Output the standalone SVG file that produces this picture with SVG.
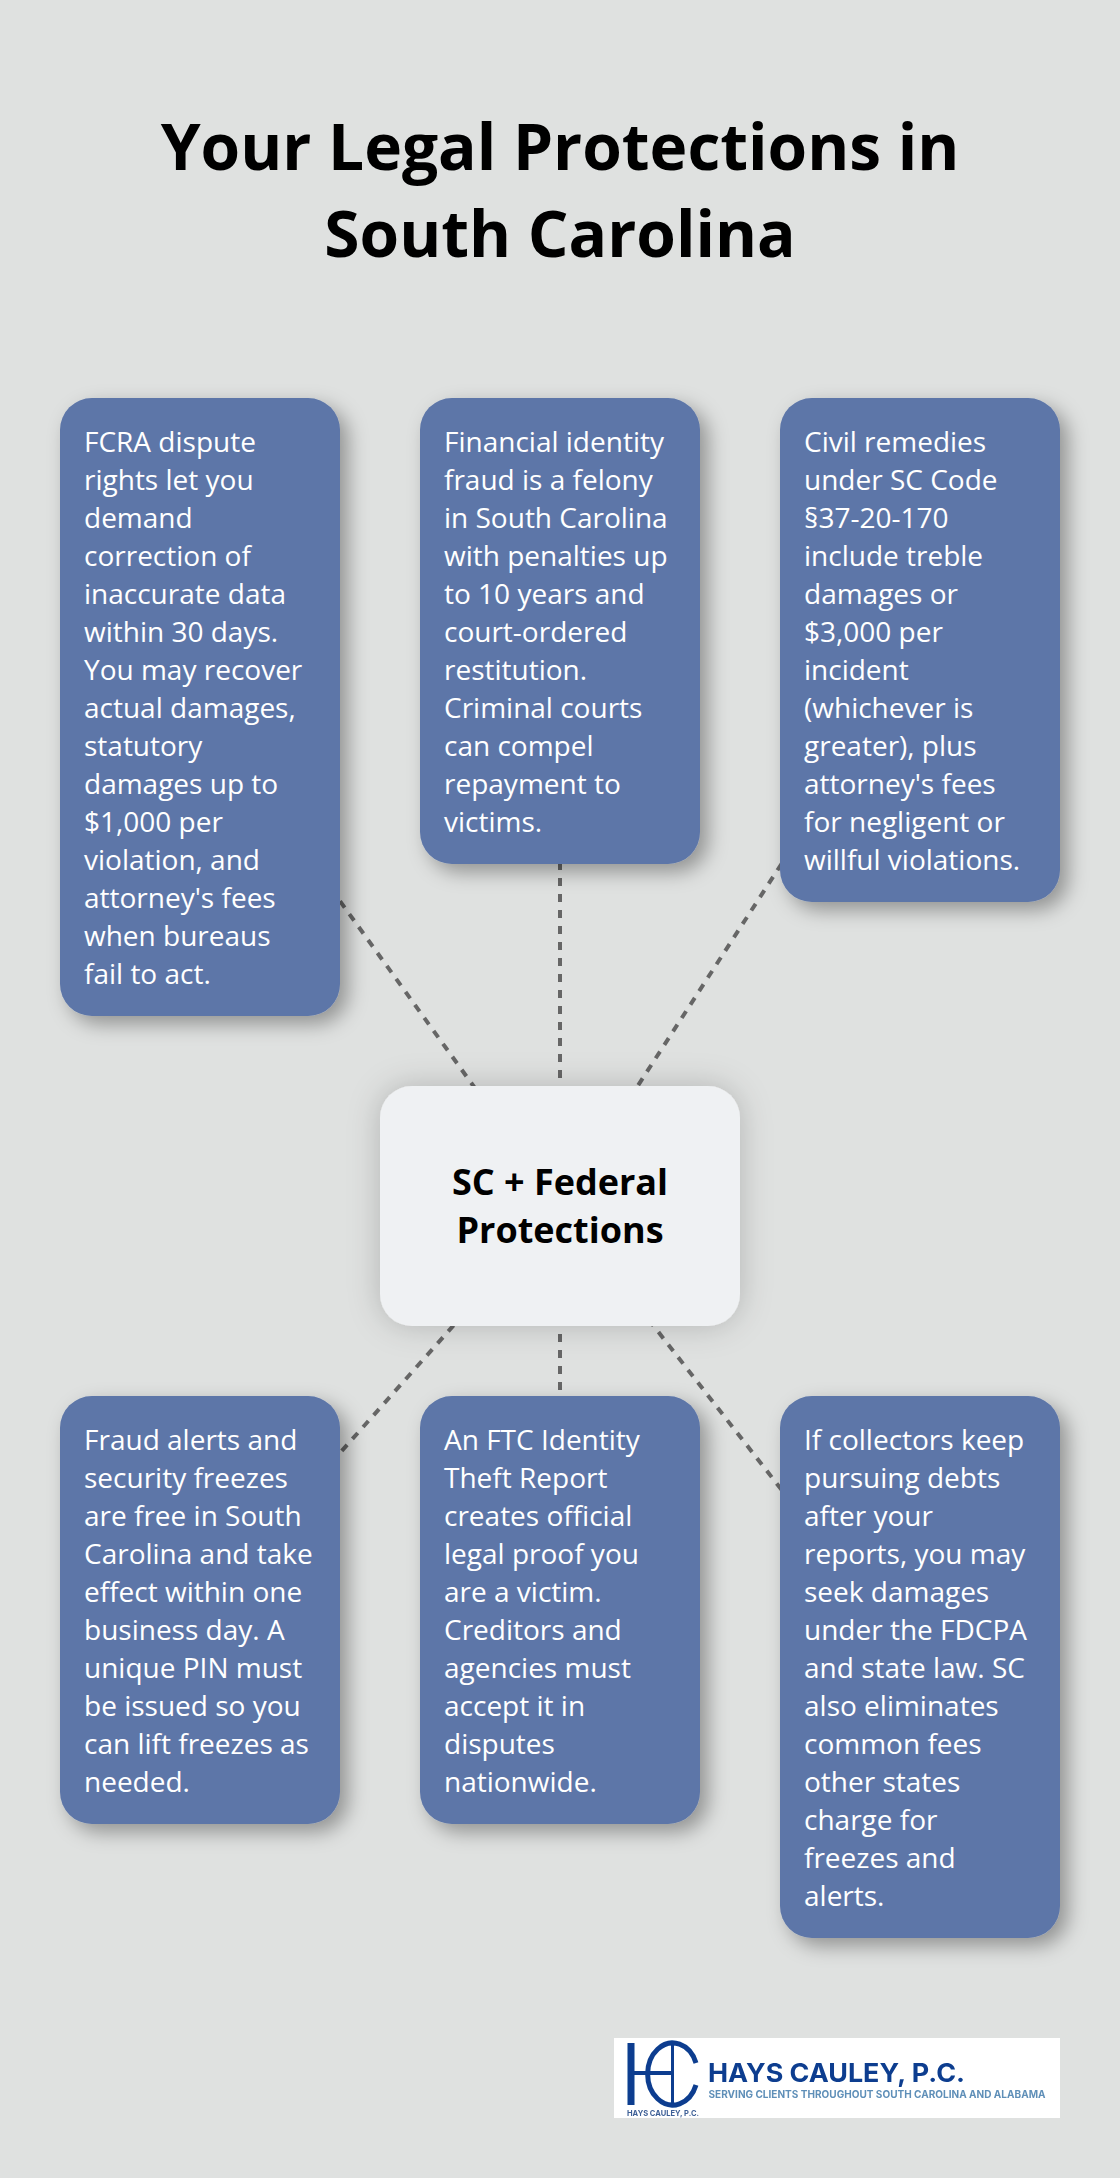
<svg xmlns="http://www.w3.org/2000/svg" width="1120" height="2178" viewBox="0 0 1120 2178">
<style>
text{font-family:"Open Sans","Noto Sans",sans-serif}
.bg{fill:#dfe1e0}
.card{fill:#5d76a8;filter:url(#cs)}
.cardt{fill:#fff;font-size:28px}
.hub{fill:#eff1f3;filter:url(#hs)}
.hubt{fill:#000;font-size:36px;font-weight:700;text-anchor:middle}
.title{fill:#000;font-size:64px;font-weight:700;text-anchor:middle}
.link{stroke:#666;stroke-width:4;stroke-dasharray:8 8;fill:none}
.lg{font-family:Inter,"Liberation Sans",sans-serif;font-weight:700}
</style>
<defs>
<filter id="cs" x="-20%" y="-20%" width="140%" height="140%"><feDropShadow dx="8" dy="8" stdDeviation="10" flood-color="#000" flood-opacity="0.35"/></filter>
<filter id="hs" x="-25%" y="-30%" width="150%" height="160%"><feDropShadow dx="0" dy="0" stdDeviation="16" flood-color="#000" flood-opacity="0.2"/></filter>
<filter id="lb"><feGaussianBlur stdDeviation="0.5"/></filter>
</defs>
<rect class="bg" width="1120" height="2178"/>
<text class="title" id="title"><tspan x="560" y="169.500">Your Legal Protections in</tspan><tspan x="560" y="256.500">South Carolina</tspan></text>
<g id="connectors">
<path class="link" d="M560 1206L200 707"/>
<path class="link" d="M560 1206L560 631"/>
<path class="link" d="M560 1206L920 650"/>
<path class="link" d="M560 1206L200 1610"/>
<path class="link" d="M560 1206L560 1610"/>
<path class="link" d="M560 1206L920 1667"/>
</g>
<g id="node-fcra"><rect class="card" x="60" y="398" width="280" height="618" rx="32"/>
<text class="cardt"><tspan x="84" y="452">FCRA dispute</tspan><tspan x="84" dy="38">rights let you</tspan><tspan x="84" dy="38">demand</tspan><tspan x="84" dy="38">correction of</tspan><tspan x="84" dy="38">inaccurate data</tspan><tspan x="84" dy="38">within 30 days.</tspan><tspan x="84" dy="38">You may recover</tspan><tspan x="84" dy="38">actual damages,</tspan><tspan x="84" dy="38">statutory</tspan><tspan x="84" dy="38">damages up to</tspan><tspan x="84" dy="38">$1,000 per</tspan><tspan x="84" dy="38">violation, and</tspan><tspan x="84" dy="38">attorney's fees</tspan><tspan x="84" dy="38">when bureaus</tspan><tspan x="84" dy="38">fail to act.</tspan></text></g>
<g id="node-felony"><rect class="card" x="420" y="398" width="280" height="466" rx="32"/>
<text class="cardt"><tspan x="444" y="452">Financial identity</tspan><tspan x="444" dy="38">fraud is a felony</tspan><tspan x="444" dy="38">in South Carolina</tspan><tspan x="444" dy="38">with penalties up</tspan><tspan x="444" dy="38">to 10 years and</tspan><tspan x="444" dy="38">court-ordered</tspan><tspan x="444" dy="38">restitution.</tspan><tspan x="444" dy="38">Criminal courts</tspan><tspan x="444" dy="38">can compel</tspan><tspan x="444" dy="38">repayment to</tspan><tspan x="444" dy="38">victims.</tspan></text></g>
<g id="node-civil"><rect class="card" x="780" y="398" width="280" height="504" rx="32"/>
<text class="cardt"><tspan x="804" y="452">Civil remedies</tspan><tspan x="804" dy="38">under SC Code</tspan><tspan x="804" dy="38">§37-20-170</tspan><tspan x="804" dy="38">include treble</tspan><tspan x="804" dy="38">damages or</tspan><tspan x="804" dy="38">$3,000 per</tspan><tspan x="804" dy="38">incident</tspan><tspan x="804" dy="38">(whichever is</tspan><tspan x="804" dy="38">greater), plus</tspan><tspan x="804" dy="38">attorney's fees</tspan><tspan x="804" dy="38">for negligent or</tspan><tspan x="804" dy="38">willful violations.</tspan></text></g>
<g id="node-hub"><rect class="hub" x="380" y="1086" width="360" height="240" rx="32"/>
<text class="hubt"><tspan x="560" y="1195">SC + Federal</tspan><tspan x="560" y="1243">Protections</tspan></text></g>
<g id="node-alerts"><rect class="card" x="60" y="1396" width="280" height="428" rx="32"/>
<text class="cardt"><tspan x="84" y="1450">Fraud alerts and</tspan><tspan x="84" dy="38">security freezes</tspan><tspan x="84" dy="38">are free in South</tspan><tspan x="84" dy="38">Carolina and take</tspan><tspan x="84" dy="38">effect within one</tspan><tspan x="84" dy="38">business day. A</tspan><tspan x="84" dy="38">unique PIN must</tspan><tspan x="84" dy="38">be issued so you</tspan><tspan x="84" dy="38">can lift freezes as</tspan><tspan x="84" dy="38">needed.</tspan></text></g>
<g id="node-ftc"><rect class="card" x="420" y="1396" width="280" height="428" rx="32"/>
<text class="cardt"><tspan x="444" y="1450">An FTC Identity</tspan><tspan x="444" dy="38">Theft Report</tspan><tspan x="444" dy="38">creates official</tspan><tspan x="444" dy="38">legal proof you</tspan><tspan x="444" dy="38">are a victim.</tspan><tspan x="444" dy="38">Creditors and</tspan><tspan x="444" dy="38">agencies must</tspan><tspan x="444" dy="38">accept it in</tspan><tspan x="444" dy="38">disputes</tspan><tspan x="444" dy="38">nationwide.</tspan></text></g>
<g id="node-collectors"><rect class="card" x="780" y="1396" width="280" height="542" rx="32"/>
<text class="cardt"><tspan x="804" y="1450">If collectors keep</tspan><tspan x="804" dy="38">pursuing debts</tspan><tspan x="804" dy="38">after your</tspan><tspan x="804" dy="38">reports, you may</tspan><tspan x="804" dy="38">seek damages</tspan><tspan x="804" dy="38">under the FDCPA</tspan><tspan x="804" dy="38">and state law. SC</tspan><tspan x="804" dy="38">also eliminates</tspan><tspan x="804" dy="38">common fees</tspan><tspan x="804" dy="38">other states</tspan><tspan x="804" dy="38">charge for</tspan><tspan x="804" dy="38">freezes and</tspan><tspan x="804" dy="38">alerts.</tspan></text></g>
<g id="logo">
<rect x="614" y="2038" width="446" height="80" fill="#fff"/>
<g fill="none" stroke="#0a3d8f" filter="url(#lb)">
<path d="M631 2043V2105" stroke-width="7"/>
<path d="M634 2073H674" stroke-width="4"/>
<path d="M672.500 2044V2105" stroke-width="3"/>
<path d="M696 2063A25 31 0 1 0 696 2085" stroke-width="5"/>
</g>
<text class="lg" x="708" y="2082" font-size="26" fill="#0a3d8f" filter="url(#lb)" textLength="257" lengthAdjust="spacingAndGlyphs">HAYS CAULEY, P.C.</text>
<text class="lg" x="708.500" y="2098" font-size="10.500" fill="#5f8fb8" filter="url(#lb)" textLength="337" lengthAdjust="spacingAndGlyphs">SERVING CLIENTS THROUGHOUT SOUTH CAROLINA AND ALABAMA</text>
<text class="lg" x="627" y="2116" font-size="8" fill="#3d5f96" filter="url(#lb)" textLength="72" lengthAdjust="spacingAndGlyphs">HAYS CAULEY, P.C.</text>
</g>
</svg>
